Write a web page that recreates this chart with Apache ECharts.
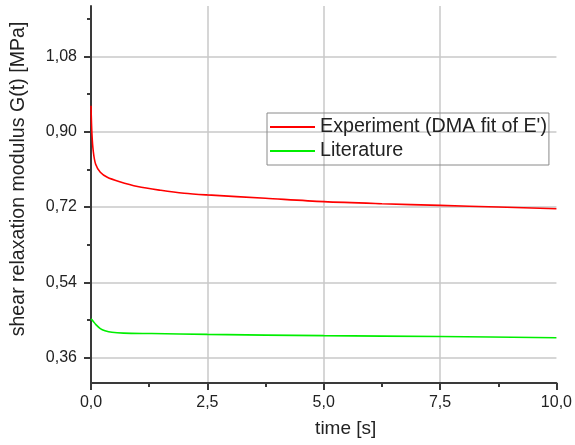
<!DOCTYPE html>
<html lang="en">
<head>
    <meta charset="UTF-8">
    <title>Shear relaxation modulus</title>
    <script src="https://cdn.jsdelivr.net/npm/echarts@6.0.0/dist/echarts.min.js"></script>
    <style>
        html, body { margin: 0; padding: 0; background: #fff; }
    </style>
</head>
<body>
    <div id="main" style="width: 575px; height: 445px;"></div>

    <script>
        // time points [s]
        var expTime = [0, 0.02, 0.05, 0.10, 0.20, 0.35, 0.6, 1.0, 1.5, 2.0, 2.5, 3.75, 5.0, 6.25, 7.5, 8.75, 10.0];
        // Experiment (DMA fit of E') [MPa]
        var expValues = [0.962, 0.895, 0.852, 0.822, 0.803, 0.791, 0.781, 0.769, 0.760, 0.753, 0.749, 0.741, 0.733, 0.728, 0.724, 0.720, 0.716];

        var litTime = [0, 0.05, 0.10, 0.20, 0.30, 0.45, 0.7, 1.3, 2.5, 5.0, 7.5, 10.0];
        // Literature [MPa]
        var litValues = [0.453, 0.447, 0.440, 0.430, 0.425, 0.421, 0.419, 0.418, 0.416, 0.413, 0.411, 0.408];

        // tick marks on the G(t) axis
        var yMajorTicks = [0.36, 0.54, 0.72, 0.90, 1.08];
        var yMinorTicks = [0.45, 0.63, 0.81, 0.99, 1.17];

        var seriesNames = ['Experiment (DMA fit of E\')', 'Literature'];

        function pairs(xs, ys) {
            return xs.map(function (x, i) { return [x, ys[i]]; });
        }

        var font = '"Liberation Sans", Arial, sans-serif';
        var chart = echarts.init(document.getElementById('main'));

        var option = {
            animation: false,
            textStyle: { fontFamily: font },
            grid: { left: 91, right: 16, top: 6, bottom: 62 },
            legend: {
                orient: 'vertical',
                left: 267,
                top: 113,
                padding: [4, 2, 4, 2],
                itemGap: 4,
                itemWidth: 45,
                itemHeight: 14,
                itemStyle: { opacity: 0 },
                borderColor: '#8a8a8a',
                borderWidth: 1,
                textStyle: { fontFamily: font, fontSize: 19.7, lineHeight: 20, color: '#222' },
                data: seriesNames
            },
            xAxis: {
                type: 'value',
                min: 0,
                max: 10,
                interval: 2.5,
                name: 'time [s]',
                nameLocation: 'middle',
                nameGap: 36,
                nameTextStyle: { fontFamily: font, fontSize: 19, color: '#222', padding: [0, 0, 0, 44] },
                axisLine: { lineStyle: { color: '#3a3a3a', width: 2 } },
                axisTick: { inside: false, length: 7, lineStyle: { color: '#3a3a3a', width: 2 } },
                minorTick: { show: true, splitNumber: 2, length: 4, lineStyle: { color: '#3a3a3a', width: 2 } },
                axisLabel: {
                    fontFamily: font, fontSize: 16, color: '#222', margin: 12,
                    formatter: function (v) { return v.toFixed(1).replace('.', ','); }
                },
                splitLine: {
                    show: true,
                    showMinLine: false,
                    showMaxLine: false,
                    lineStyle: { color: '#c8c8c8', width: 1.5 }
                }
            },
            yAxis: [
                {
                    type: 'value',
                    position: 'left',
                    min: 0.30,
                    max: 1.20,
                    name: 'shear relaxation modulus G(t) [MPa]',
                    nameLocation: 'middle',
                    nameRotate: 90,
                    nameGap: 62,
                    nameTextStyle: { fontFamily: font, fontSize: 19.6, color: '#222', padding: [0, 0, 0, 31] },
                    axisLine: { show: true, lineStyle: { color: '#3a3a3a', width: 2 } },
                    axisTick: { show: true, inside: false, length: 7, customValues: yMajorTicks, lineStyle: { color: '#3a3a3a', width: 2 } },
                    axisLabel: {
                        fontFamily: font, fontSize: 16, color: '#222', margin: 14,
                        customValues: yMajorTicks,
                        formatter: function (v) { return v.toFixed(2).replace('.', ','); }
                    },
                    splitLine: { show: true, lineStyle: { color: '#c8c8c8', width: 1.5 } }
                },
                {
                    // minor ticks only
                    type: 'value',
                    position: 'left',
                    min: 0.30,
                    max: 1.20,
                    axisLine: { show: false },
                    axisTick: { show: true, inside: false, length: 4, customValues: yMinorTicks, lineStyle: { color: '#3a3a3a', width: 2 } },
                    axisLabel: { show: false },
                    splitLine: { show: false }
                }
            ],
            series: [
                {
                    name: seriesNames[0],
                    type: 'line',
                    yAxisIndex: 0,
                    symbol: 'none',
                    smooth: 0.3,
                    lineStyle: { color: '#ff0000', width: 1.6 },
                    itemStyle: { color: '#ff0000' },
                    data: pairs(expTime, expValues)
                },
                {
                    name: seriesNames[1],
                    type: 'line',
                    yAxisIndex: 0,
                    symbol: 'none',
                    smooth: 0.3,
                    lineStyle: { color: '#00ee00', width: 1.6 },
                    itemStyle: { color: '#00ee00' },
                    data: pairs(litTime, litValues)
                }
            ]
        };

        chart.setOption(option);
    </script>
</body>
</html>
